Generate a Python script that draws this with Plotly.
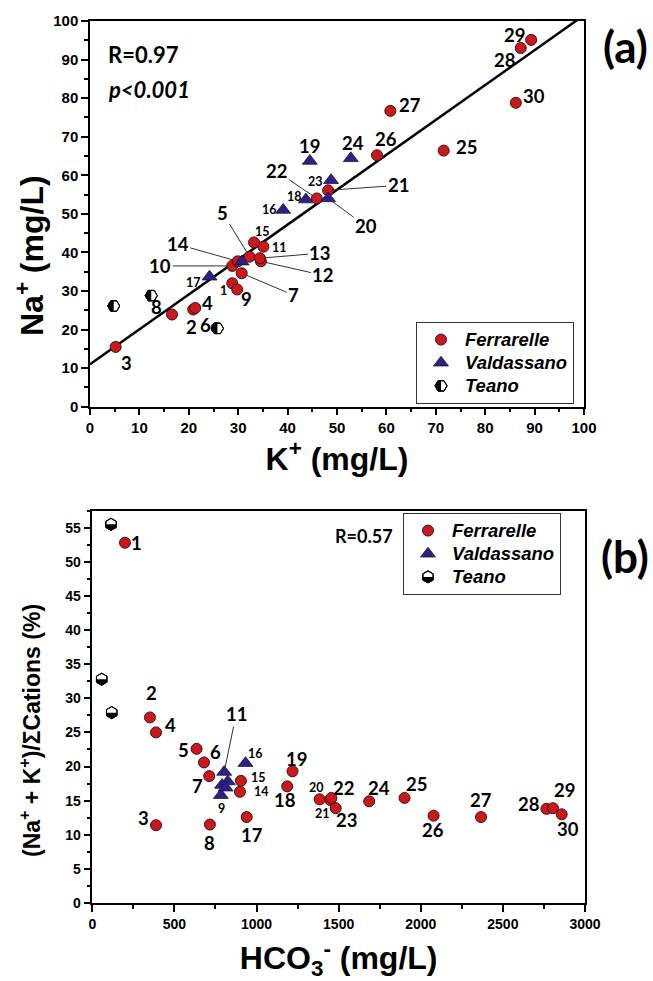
import numpy as np
import plotly.graph_objects as go

# ---------------- Panel (a): Na+ vs K+ ----------------
FERR_A_ID = ["1", "2", "3", "4", "5", "6", "7", "8", "9", "10", "11", "12", "13", "14", "15",
             "21", "22", "25", "26", "27", "28", "29", "30"]
FERR_A_K = [28.8, 20.9, 5.2, 21.3, 32.3, 25.6, 30.7, 16.6, 29.8, 28.8, 35.1, 34.6, 34.4, 29.9, 33.2,
            48.2, 45.9, 71.6, 58.1, 60.8, 87.2, 89.3, 86.2]
FERR_A_NA = [32.0, 25.2, 15.5, 25.6, 38.9, 20.4, 34.6, 23.9, 30.4, 36.5, 41.5, 37.7, 38.5, 37.7, 42.6,
             56.1, 54.0, 66.4, 65.2, 76.7, 93.0, 95.1, 78.8]
VALD_A_ID = ["17", "", "16", "18", "20", "23", "19", "24"]
VALD_A_K = [24.2, 30.7, 39.1, 43.7, 48.2, 48.8, 44.5, 52.8]
VALD_A_NA = [33.7, 37.6, 51.0, 53.7, 54.0, 58.7, 63.7, 64.4]
TEANO_A_K = [4.8, 12.4, 25.8]
TEANO_A_NA = [26.1, 28.8, 20.3]
FIT_A_INTERCEPT = 11.0
FIT_A_SLOPE = 0.905
R_A_TEXT = "R=0.97"
P_A_TEXT = "p&lt;0.001"

# ---------------- Panel (b): (Na+K)/sum cations vs HCO3- ----------------
FERR_B_ID = ["1", "2", "3", "4", "5", "6", "7", "8", "14", "15", "17", "18", "19", "20", "21", "22",
             "23", "24", "25", "26", "27", "28", "29", "30"]
FERR_B_HCO3 = [199, 351, 388, 388, 635, 680, 712, 716, 899, 905, 940, 1187, 1219, 1384, 1448, 1456,
               1482, 1686, 1901, 2078, 2367, 2765, 2805, 2858]
FERR_B_PCT = [52.8, 27.2, 11.4, 25.0, 22.6, 20.6, 18.6, 11.5, 16.3, 17.9, 12.6, 17.1, 19.3, 15.2, 15.1, 15.4,
              13.9, 14.9, 15.4, 12.8, 12.6, 13.8, 13.9, 13.0]
VALD_B_ID = ["11", "", "", "9", "", "16"]
VALD_B_HCO3 = [803, 790, 825, 783, 812, 933]
VALD_B_PCT = [19.2, 17.3, 17.8, 15.8, 16.9, 20.5]
TEANO_B_HCO3 = [114, 57, 118]
TEANO_B_PCT = [55.5, 32.8, 27.9]
R_B_TEXT = "R=0.57"

SERIES = ["Ferrarelle", "Valdassano", "Teano"]

# ---------------- styles / layout constants ----------------
W, H = 653, 981
ML, MR, MT, MB = 90, 68, 21, 78
RED = "#C8191E"
RED_LINE = "#4a0d0d"
BLUE = "#2D2281"
BLUE_LINE = "#1a1450"
TICK_FONT = "Liberation Sans"
LABEL_FONT = "Lato"
MS_CIRCLE, MS_TRI, MS_HEX = 11, 13, 12
BIG, SMALL = 18.5, 12.5


def PX(x):
    return (x - ML) / (W - ML - MR)


def PY(y):
    return (H - MB - y) / (H - MT - MB)


# label offsets in pixels: (dx, dy(down +), leader line, big font)
LABEL_STYLE_A = {
    "1": (-9, 7, False, False), "2": (-2, 17, False, True), "3": (11, 16, False, True),
    "4": (12, -5, False, True), "5": (-27, -44, True, True), "6": (-11, -3, False, True),
    "7": (52, 22, True, True), "8": (-16, -8, False, True), "9": (9, 10, False, True),
    "10": (-72, 0, True, True), "11": (16, 1, False, False), "12": (62, 14, True, True),
    "13": (60, -5, True, True), "14": (-60, -17, True, True), "15": (8, -11, False, False),
    "16": (-14, 0, False, False), "17": (-16, 6, False, False), "18": (-11, -3, False, False),
    "19": (0, -15, False, True), "20": (38, 28, True, True), "21": (70, -5, True, True),
    "22": (-40, -27, True, True), "23": (-16, 1, False, False), "24": (2, -15, False, True),
    "25": (23, -4, False, True), "26": (9, -16, False, True), "27": (20, -6, False, True),
    "28": (-16, 12, False, True), "29": (-17, -5, False, True), "30": (18, -7, False, True),
}
LABEL_STYLE_B = {
    "1": (12, 0, False, True), "2": (2, -24, False, True), "3": (-13, -7, False, True),
    "4": (14, -7, False, True), "5": (-13, 1, False, True), "6": (12, -10, False, True),
    "7": (-12, 10, False, True), "8": (0, 18, False, True), "9": (1, 13, False, False),
    "11": (12, -58, True, True), "14": (22, 0, False, False), "15": (18, -3, False, False),
    "16": (10, -10, False, False), "17": (5, 18, False, True), "18": (-2, 14, False, True),
    "19": (4, -12, False, True), "20": (-3, -12, False, False), "21": (-8, 14, False, False),
    "22": (12, -10, False, True), "23": (11, 12, False, True), "24": (10, -13, False, True),
    "25": (12, -14, False, True), "26": (-1, 14, False, True), "27": (0, -17, False, True),
    "28": (-17, -5, False, True), "29": (12, -18, False, True), "30": (6, 15, False, True),
}

fig = go.Figure()


def legend_name(s):
    return "<b><i><span style='font-size:18.5px'>%s</span></i></b>" % s


# ---- panel (a) traces ----
fit_x = np.array([0.0, 100.0])
fig.add_trace(go.Scatter(x=fit_x, y=FIT_A_INTERCEPT + FIT_A_SLOPE * fit_x, mode="lines",
                         line=dict(color="black", width=2.5), showlegend=False, hoverinfo="skip",
                         xaxis="x", yaxis="y"))
fig.add_trace(go.Scatter(x=FERR_A_K, y=FERR_A_NA, mode="markers", name=legend_name(SERIES[0]),
                         marker=dict(symbol="circle", size=MS_CIRCLE, color=RED,
                                     line=dict(color=RED_LINE, width=1)),
                         xaxis="x", yaxis="y", legend="legend"))
fig.add_trace(go.Scatter(x=VALD_A_K, y=VALD_A_NA, mode="markers", name=legend_name(SERIES[1]),
                         marker=dict(symbol="triangle-up", size=MS_TRI, color=BLUE,
                                     line=dict(color=BLUE_LINE, width=0.8)),
                         xaxis="x", yaxis="y", legend="legend"))
fig.add_trace(go.Scatter(x=TEANO_A_K, y=TEANO_A_NA, mode="markers", name=legend_name(SERIES[2]),
                         marker=dict(symbol="hexagon2", size=MS_HEX, color="rgba(255,255,255,0)",
                                     line=dict(color="black", width=1)),
                         xaxis="x", yaxis="y", legend="legend"))

# ---- panel (b) traces ----
fig.add_trace(go.Scatter(x=FERR_B_HCO3, y=FERR_B_PCT, mode="markers", name=legend_name(SERIES[0]),
                         marker=dict(symbol="circle", size=MS_CIRCLE, color=RED,
                                     line=dict(color=RED_LINE, width=1)),
                         xaxis="x2", yaxis="y2", legend="legend2"))
fig.add_trace(go.Scatter(x=VALD_B_HCO3, y=VALD_B_PCT, mode="markers", name=legend_name(SERIES[1]),
                         marker=dict(symbol="triangle-up", size=MS_TRI, color=BLUE,
                                     line=dict(color=BLUE_LINE, width=0.8)),
                         xaxis="x2", yaxis="y2", legend="legend2"))
fig.add_trace(go.Scatter(x=TEANO_B_HCO3, y=TEANO_B_PCT, mode="markers", name=legend_name(SERIES[2]),
                         marker=dict(symbol="hexagon", size=MS_HEX, color="rgba(255,255,255,0)",
                                     line=dict(color="black", width=1)),
                         xaxis="x2", yaxis="y2", legend="legend2"))

# ---- half-filled Teano hexagons (pixel-sized shapes anchored on the data values) ----
r = MS_HEX / 2.0
rs = r / 2.0
rt = r * np.sqrt(3) / 2.0
HEX2_FULL = "M-%.2f,%.2f H%.2f L%.2f,0 L%.2f,-%.2f H-%.2f L-%.2f,0 Z" % (rs, rt, rs, r, rs, rt, rs, r)
HEX2_LEFT = "M0,%.2f L-%.2f,%.2f L-%.2f,0 L-%.2f,-%.2f L0,-%.2f Z" % (rt, rs, rt, r, rs, rt, rt)
HEX_FULL = "M%.2f,%.2f V-%.2f L0,-%.2f L-%.2f,-%.2f V%.2f L0,%.2f Z" % (rt, rs, rs, r, rt, rs, rs, r)
HEX_BOTTOM = "M%.2f,0 L%.2f,-%.2f L0,-%.2f L-%.2f,-%.2f L-%.2f,0 Z" % (rt, rt, rs, r, rt, rs, rt)


def hex_shapes(full, half, x, y, xref, yref):
    base = dict(type="path", xref=xref, yref=yref, xsizemode="pixel", ysizemode="pixel",
                xanchor=x, yanchor=y, layer="above")
    s1 = dict(base, path=full, fillcolor="white", line=dict(color="black", width=1))
    s2 = dict(base, path=half, fillcolor="black", line=dict(width=0))
    s3 = dict(base, path=full, fillcolor="rgba(0,0,0,0)", line=dict(color="black", width=1))
    return [s1, s2, s3]


shapes = []
for x, y in zip(TEANO_A_K, TEANO_A_NA):
    shapes += hex_shapes(HEX2_FULL, HEX2_LEFT, x, y, "x", "y")
for x, y in zip(TEANO_B_HCO3, TEANO_B_PCT):
    shapes += hex_shapes(HEX_FULL, HEX_BOTTOM, x, y, "x2", "y2")

# legend geometry (pixels)
LEG_FONT = 15.5
ITEM_H = LEG_FONT * 1.3 + 3
LEG_A_LEFT, LEG_A_TOP = 416, 322
LEG_B_LEFT, LEG_B_TOP = 403, 513
ITEM_W = 38
for (lx, ly, full, half) in [(LEG_A_LEFT, LEG_A_TOP, HEX2_FULL, HEX2_LEFT),
                             (LEG_B_LEFT, LEG_B_TOP, HEX_FULL, HEX_BOTTOM)]:
    sx = lx + 1 + 5 + ITEM_W / 2.0
    sy = ly + 1 + 5 + 2.5 * ITEM_H
    shapes += hex_shapes(full, half, PX(sx), PY(sy), "paper", "paper")


# ---- labels ----
def add_labels(ids, xs, ys, styles, xref, yref):
    for i, x, y in zip(ids, xs, ys):
        if i not in styles:
            continue
        dx, dy, leader, big = styles[i]
        font = dict(family=LABEL_FONT, size=BIG if big else SMALL, color="black", weight="bold")
        if leader:
            fig.add_annotation(x=x, y=y, xref=xref, yref=yref, text=i, showarrow=True, ax=dx, ay=dy,
                               arrowhead=0, arrowwidth=1, arrowcolor="#333", standoff=4, font=font)
        else:
            fig.add_annotation(x=x, y=y, xref=xref, yref=yref, text=i, showarrow=False,
                               xshift=dx, yshift=-dy, font=font)


add_labels(FERR_A_ID, FERR_A_K, FERR_A_NA, LABEL_STYLE_A, "x", "y")
add_labels(VALD_A_ID, VALD_A_K, VALD_A_NA, LABEL_STYLE_A, "x", "y")
add_labels(FERR_B_ID, FERR_B_HCO3, FERR_B_PCT, LABEL_STYLE_B, "x2", "y2")
add_labels(VALD_B_ID, VALD_B_HCO3, VALD_B_PCT, LABEL_STYLE_B, "x2", "y2")

stat_font = dict(family=LABEL_FONT, size=22, color="black", weight="bold")
fig.add_annotation(xref="paper", yref="paper", x=PX(106), y=PY(54.5), xanchor="left", yanchor="middle",
                   text=R_A_TEXT, showarrow=False, font=stat_font)
fig.add_annotation(xref="paper", yref="paper", x=PX(106), y=PY(90), xanchor="left", yanchor="middle",
                   text="<i>%s</i>" % P_A_TEXT, showarrow=False, font=stat_font)
fig.add_annotation(xref="paper", yref="paper", x=PX(395), y=PY(536), xanchor="right", yanchor="middle",
                   text=R_B_TEXT, showarrow=False,
                   font=dict(family=LABEL_FONT, size=18, color="black", weight="bold"))
panel_font = dict(family=LABEL_FONT, size=44, color="black", weight="bold")
fig.add_annotation(xref="paper", yref="paper", x=PX(625), y=PY(46), xanchor="center", yanchor="middle",
                   text="(a)", showarrow=False, font=panel_font)
fig.add_annotation(xref="paper", yref="paper", x=PX(625), y=PY(556), xanchor="center", yanchor="middle",
                   text="(b)", showarrow=False, font=panel_font)

# y-axis titles (placed as rotated texts to match the reference position)
fig.add_annotation(xref="paper", yref="paper", x=PX(30), y=PY(256), xanchor="center", yanchor="middle",
                   textangle=-90, showarrow=False, text="Na<sup>+</sup> (mg/L)",
                   font=dict(family=TICK_FONT, size=32, color="black", weight="bold"))
fig.add_annotation(xref="paper", yref="paper", x=PX(30), y=PY(731), xanchor="center", yanchor="middle",
                   textangle=-90, showarrow=False, text="(Na<sup>+</sup> + K<sup>+</sup>)/ΣCations (%)",
                   font=dict(family=TICK_FONT, size=23, color="black", weight="bold"))


# ---- axes ----
def main_axis(rng, dtick, mdtick, title, tsize, standoff, fsize, domain, anchor):
    d = dict(domain=domain, anchor=anchor, range=rng, dtick=dtick, tick0=0,
             ticks="outside", ticklen=7, tickwidth=1.5, tickcolor="black",
             minor=dict(dtick=mdtick, tick0=0, ticks="outside", ticklen=4, tickwidth=1.5, tickcolor="black"),
             showline=True, linewidth=1.5, linecolor="black", mirror=True,
             showgrid=False, zeroline=False, automargin=False,
             tickfont=dict(family=TICK_FONT, size=fsize, color="black", weight="bold"))
    if title:
        d["title"] = dict(text=title, standoff=standoff,
                          font=dict(family=TICK_FONT, size=tsize, color="black", weight="bold"))
    return d


def inner_axis(rng, dtick, overlay, anchor, side):
    return dict(overlaying=overlay, anchor=anchor, side=side, range=rng, dtick=dtick, tick0=0,
                ticks="inside", ticklen=6, tickwidth=1.5, tickcolor="black", showticklabels=False,
                showline=False, showgrid=False, zeroline=False, automargin=False)


YA_DOM = [PY(406.7), 1.0]
YB_DOM = [0.0, PY(510.7)]
XA_DOM = [0.0, PX(584)]
XB_DOM = [PX(92.3), 1.0]

fig.update_layout(
    width=W, height=H, template="none",
    margin=dict(l=ML, r=MR, t=MT, b=MB),
    paper_bgcolor="white", plot_bgcolor="white",
    xaxis=main_axis([0, 100], 10, 5, "K<sup>+</sup> (mg/L)", 32, 10, 15, XA_DOM, "y"),
    yaxis=main_axis([0, 100], 10, 5, None, 32, 10, 15, YA_DOM, "x"),
    xaxis2=main_axis([0, 3000], 500, 250, "HCO<sub>3</sub><sup>-</sup> (mg/L)", 32, 16, 14, XB_DOM, "y2"),
    yaxis2=main_axis([0, 57.5], 5, 2.5, None, 24, 22, 14, YB_DOM, "x2"),
    xaxis3=inner_axis([0, 100], 5, "x", "y", "top"),
    yaxis3=inner_axis([0, 100], 5, "y", "x", "right"),
    xaxis4=inner_axis([0, 3000], 250, "x2", "y2", "top"),
    yaxis4=inner_axis([0, 57.5], 2.5, "y2", "x2", "right"),
    legend=dict(x=PX(LEG_A_LEFT), y=PY(LEG_A_TOP), xanchor="left", yanchor="top",
                bordercolor="#333", borderwidth=1, bgcolor="rgba(255,255,255,0)", itemwidth=ITEM_W,
                font=dict(family=TICK_FONT, size=LEG_FONT, color="black")),
    legend2=dict(x=PX(LEG_B_LEFT), y=PY(LEG_B_TOP), xanchor="left", yanchor="top",
                 bordercolor="#333", borderwidth=1, bgcolor="rgba(255,255,255,0)", itemwidth=ITEM_W,
                 font=dict(family=TICK_FONT, size=LEG_FONT, color="black")),
    shapes=shapes,
)

fig.write_html("out.html", config={"displayModeBar": False},
               post_script="document.body.style.margin='0px';")
